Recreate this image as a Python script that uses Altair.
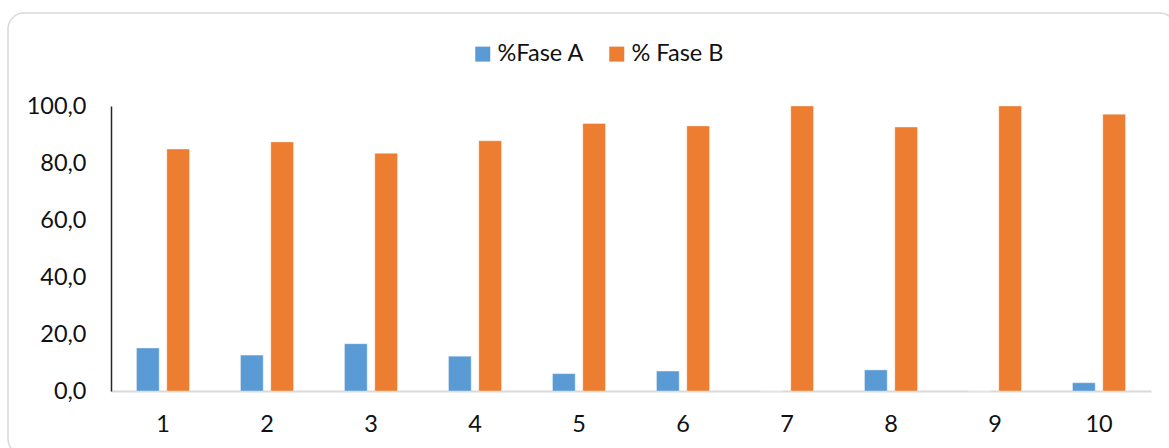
import altair as alt
import pandas as pd

# Grouped bars: share of each phase per sample
categorias = [str(i) for i in range(1, 11)]
series = ["%Fase A", "% Fase B"]
fase_a = [15.1, 12.6, 16.6, 12.2, 6.1, 7.0, 0.0, 7.4, 0.0, 2.9]
fase_b = [84.9, 87.4, 83.4, 87.8, 93.9, 93.0, 100.0, 92.6, 100.0, 97.1]
colores = ["#5B9BD5", "#ED7D31"]
y_ticks = [0, 20, 40, 60, 80, 100]

rows = []
for c, a, b in zip(categorias, fase_a, fase_b):
    rows.append({"cat": c, "serie": series[0], "valor": a})
    rows.append({"cat": c, "serie": series[1], "valor": b})
df = pd.DataFrame(rows)

FONT = "Lato"
TXT = "#111111"

bars = alt.Chart(df).mark_bar(stroke="white", strokeWidth=0.6, strokeOpacity=0.6).encode(
    x=alt.X(
        "cat:O",
        sort=categorias,
        scale=alt.Scale(paddingInner=0.49, paddingOuter=0.245),
        axis=alt.Axis(
            title=None,
            labelAngle=0,
            labelFontSize=23.5,
            labelFont=FONT,
            labelColor=TXT,
            labelPadding=21,
            ticks=False,
            domainColor="#d9d9d9",
            domainWidth=2,
        ),
    ),
    xOffset=alt.XOffset(
        "serie:N",
        scale=alt.Scale(domain=series, paddingInner=0.25, paddingOuter=0),
    ),
    y=alt.Y(
        "valor:Q",
        scale=alt.Scale(domain=[0, 100], nice=False),
        axis=alt.Axis(
            title=None,
            values=y_ticks,
            grid=False,
            ticks=False,
            labelFontSize=23.5,
            labelFont=FONT,
            labelColor=TXT,
            labelPadding=25,
            domainColor="#262626",
            domainWidth=1.5,
            labelExpr="replace(format(datum.value, '.1f'), '.', ',')",
        ),
    ),
    color=alt.Color(
        "serie:N",
        scale=alt.Scale(domain=series, range=colores),
        legend=alt.Legend(
            title=None,
            orient="none",
            direction="horizontal",
            legendX=360,
            legendY=-64,
            symbolType="square",
            symbolSize=225,
            symbolStrokeWidth=0,
            labelFontSize=23.5,
            labelFont=FONT,
            labelColor=TXT,
            labelOffset=3,
            columnPadding=20,
        ),
    ),
)

# Rounded frame around the whole chart area
frame = alt.Chart(pd.DataFrame({"k": [0]})).mark_rect(
    fill=None, stroke="#d9d9d9", strokeWidth=1.5, cornerRadius=16
).encode(
    x=alt.value(-103),
    x2=alt.value(1065),
    y=alt.value(-93),
    y2=alt.value(349),
)

chart = alt.layer(frame, bars).properties(
    width=1040,
    height=285,
    autosize=alt.AutoSizeParams(type="none"),
    padding={"left": 111, "top": 106, "right": 18, "bottom": 57},
    background="white",
).configure_view(stroke=None)

chart.save("out.html", embed_options={"renderer": "svg", "actions": False})
